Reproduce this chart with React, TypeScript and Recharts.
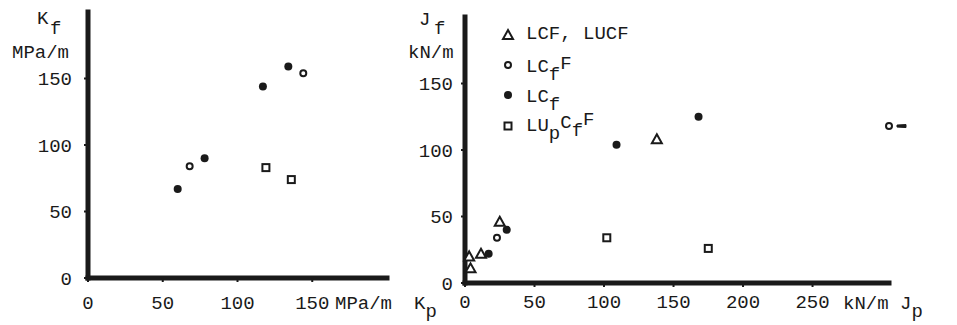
import { ScatterChart, Scatter, XAxis, YAxis, Legend } from 'recharts';

const FONT = '"Liberation Mono", "DejaVu Sans Mono", monospace';
const INK = '#1a1a1a';
const FS = 19;

// left panel: K_f against K_p, MPa/m
const kLcfF = [
  { x: 68, y: 84 },
  { x: 144, y: 154 },
];
const kLcf = [
  { x: 60, y: 67 },
  { x: 78, y: 90 },
  { x: 117, y: 144 },
  { x: 134, y: 159 },
];
const kLupcfF = [
  { x: 119, y: 83 },
  { x: 136, y: 74 },
];
const kTicks = [0, 50, 100, 150];

// right panel: J_f against J_p, kN/m
const jLcfLucf = [
  { x: 3, y: 20 },
  { x: 4, y: 11 },
  { x: 11.5, y: 22 },
  { x: 25, y: 46 },
  { x: 138, y: 108 },
];
const jLcfF = [
  { x: 23, y: 34 },
  { x: 305, y: 118 },
];
const jLcf = [
  { x: 17, y: 22 },
  { x: 30, y: 40 },
  { x: 109, y: 104 },
  { x: 168, y: 125 },
];
const jLupcfF = [
  { x: 102, y: 34 },
  { x: 175, y: 26 },
];
const jpTicks = [0, 50, 100, 150, 200, 250];
const jfTicks = [0, 50, 100, 150];
const JP_MAX = 305;

const seriesNames = ['LCF, LUCF', 'LC_fF', 'LC_f', 'LU_pC_fF'];

const Triangle = ({ cx, cy }: any) => (
  <path d={`M${cx},${cy - 5} L${cx + 5},${cy + 4} L${cx - 5},${cy + 4} Z`} fill="#fff" stroke={INK} strokeWidth={2} />
);
const OpenDot = ({ cx, cy, payload }: any) => (
  <g>
    <circle cx={cx} cy={cy} r={3} fill="#fff" stroke={INK} strokeWidth={2} />
    {payload && payload.x >= JP_MAX && (
      <path d={`M${cx + 8},${cy - 1} L${cx + 17},${cy - 1.5} L${cx + 17},${cy + 1.5} L${cx + 8},${cy + 1} Z`} fill={INK} stroke={INK} strokeWidth={1} />
    )}
  </g>
);
const FilledDot = ({ cx, cy }: any) => <circle cx={cx} cy={cy} r={4} fill={INK} />;
const Square = ({ cx, cy }: any) => (
  <rect x={cx - 3.5} y={cy - 3.5} width={7} height={7} fill="#fff" stroke={INK} strokeWidth={2} />
);

const markers: Record<string, any> = {
  'LCF, LUCF': Triangle,
  'LC_fF': OpenDot,
  'LC_f': FilledDot,
  'LU_pC_fF': Square,
};

// "LU_pC_fF" -> LU, subscript p, C, subscript f, F
function richName(name: string, x: number, y: number) {
  const parts: any[] = [];
  let buf = '';
  let low = false;
  for (let i = 0; i < name.length; i++) {
    if (name[i] === '_') {
      if (buf) parts.push(<tspan key={i + 'b'} dy={low ? -11 : 0}>{buf}</tspan>);
      if (buf) low = false;
      parts.push(<tspan key={i} dy={low ? 0 : 8}>{name[i + 1]}</tspan>);
      low = true;
      buf = '';
      i++;
    } else {
      buf += name[i];
    }
  }
  if (buf) parts.push(<tspan key="end" dy={low ? -11 : 0}>{buf}</tspan>);
  return (
    <text x={x} y={y} fontFamily={FONT} fontSize={FS} fill={INK}>
      {parts}
    </text>
  );
}

const renderLegend = () => {
  const rows = [20, 50, 80, 111];
  const base = [24, 57, 87, 116];
  return (
    <svg width={200} height={140}>
      {seriesNames.map((name, i) => {
        const M = markers[name];
        return (
          <g key={name}>
            <M cx={13} cy={rows[i]} />
            {richName(name, 31, base[i])}
          </g>
        );
      })}
    </svg>
  );
};

const tickStyle = { fontFamily: FONT, fontSize: FS, fill: INK };
const axisLineStyle = { stroke: INK, strokeWidth: 5, strokeLinecap: 'square' as const };

const LeftPanel = () => (
  <ScatterChart width={460} height={325} margin={{ top: 12, right: 73, left: 0, bottom: 0 }}>
    <XAxis
      type="number"
      dataKey="x"
      domain={[0, 200]}
      ticks={kTicks}
      height={47}
      tick={tickStyle}
      tickSize={4}
      tickMargin={14}
      tickLine={{ stroke: INK, strokeWidth: 2 }}
      axisLine={axisLineStyle}
      label={{
        content: ({ viewBox }: any) => (
          <text fontFamily={FONT} fontSize={FS} fill={INK}>
            <tspan x={viewBox.x + viewBox.width - 52} y={viewBox.y + 31}>MPa/m</tspan>
            <tspan x={viewBox.x + viewBox.width + 27} y={viewBox.y + 31}>K</tspan>
            <tspan dy={8}>p</tspan>
          </text>
        ),
      }}
    />
    <YAxis
      type="number"
      dataKey="y"
      domain={[0, 200]}
      ticks={kTicks}
      width={88}
      tick={tickStyle}
      tickSize={4}
      tickMargin={12}
      tickLine={{ stroke: INK, strokeWidth: 2 }}
      axisLine={axisLineStyle}
      label={{
        content: () => (
          <text fontFamily={FONT} fontSize={FS} fill={INK}>
            <tspan x={37} y={24}>K</tspan>
            <tspan x={50} y={34}>f</tspan>
            <tspan x={12} y={58}>MPa/m</tspan>
          </text>
        ),
      }}
    />
    <Scatter name="LC_fF" data={kLcfF} shape={OpenDot} isAnimationActive={false} />
    <Scatter name="LC_f" data={kLcf} shape={FilledDot} isAnimationActive={false} />
    <Scatter name="LU_pC_fF" data={kLupcfF} shape={Square} isAnimationActive={false} />
  </ScatterChart>
);

const RightPanel = () => (
  <ScatterChart width={557} height={325} margin={{ top: 17, right: 68, left: 0, bottom: 0 }}>
    <XAxis
      type="number"
      dataKey="x"
      domain={[0, JP_MAX]}
      ticks={jpTicks}
      height={42}
      tick={tickStyle}
      tickSize={4}
      tickMargin={8}
      tickLine={{ stroke: INK, strokeWidth: 2 }}
      axisLine={axisLineStyle}
      label={{
        content: ({ viewBox }: any) => (
          <text fontFamily={FONT} fontSize={FS} fill={INK}>
            <tspan x={viewBox.x + viewBox.width - 46} y={viewBox.y + 26}>kN/m</tspan>
            <tspan x={viewBox.x + viewBox.width + 11} y={viewBox.y + 26}>J</tspan>
            <tspan dy={8}>p</tspan>
          </text>
        ),
      }}
    />
    <YAxis
      type="number"
      dataKey="y"
      domain={[0, 200]}
      ticks={jfTicks}
      width={65}
      tick={tickStyle}
      tickSize={4}
      tickMargin={8}
      tickLine={{ stroke: INK, strokeWidth: 2 }}
      axisLine={axisLineStyle}
      label={{
        content: () => (
          <text fontFamily={FONT} fontSize={FS} fill={INK}>
            <tspan x={19} y={25}>J</tspan>
            <tspan x={34} y={34}>f</tspan>
            <tspan x={8} y={58}>kN/m</tspan>
          </text>
        ),
      }}
    />
    <Legend
      layout="horizontal"
      verticalAlign="middle"
      align="center"
      content={renderLegend}
      wrapperStyle={{ left: 95, top: 15, width: 200 }}
    />
    <Scatter name={seriesNames[0]} data={jLcfLucf} shape={Triangle} isAnimationActive={false} />
    <Scatter name={seriesNames[1]} data={jLcfF} shape={OpenDot} isAnimationActive={false} />
    <Scatter name={seriesNames[2]} data={jLcf} shape={FilledDot} isAnimationActive={false} />
    <Scatter name={seriesNames[3]} data={jLupcfF} shape={Square} isAnimationActive={false} />
  </ScatterChart>
);

export default function App() {
  return (
    <div style={{ position: 'absolute', left: 0, top: 0, width: 957, height: 325, background: '#fff' }}>
      <div style={{ position: 'absolute', left: 0, top: 0 }}>
        <LeftPanel />
      </div>
      <div style={{ position: 'absolute', left: 400, top: 0 }}>
        <RightPanel />
      </div>
    </div>
  );
}
